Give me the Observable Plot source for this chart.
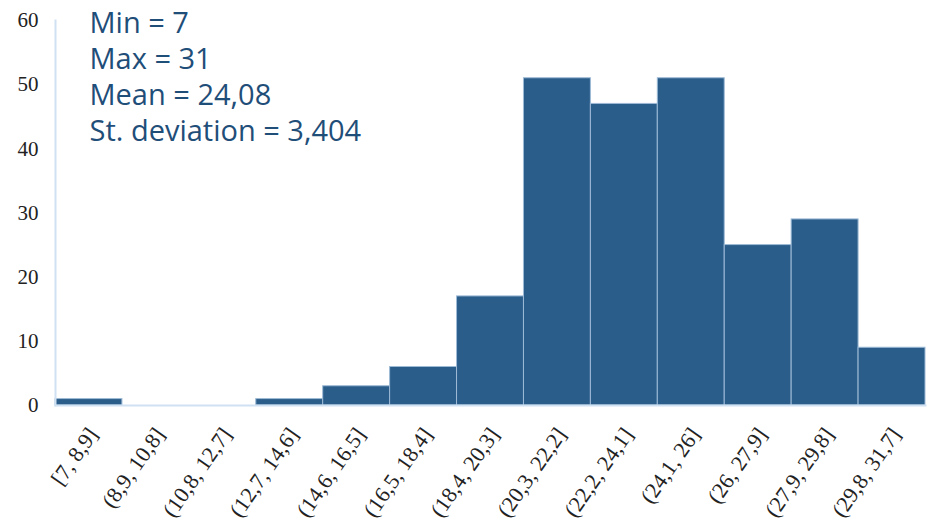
<!DOCTYPE html>
<html>
<head>
<meta charset="utf-8">
<script src="https://cdn.jsdelivr.net/npm/d3@7"></script>
<script src="https://cdn.jsdelivr.net/npm/@observablehq/plot@0.6"></script>
<style>
  html, body { margin: 0; padding: 0; background: #fff; }
  #chart svg { display: block; }
</style>
</head>
<body>
<div id="chart"></div>
<script>
const bins = ["[7, 8,9]", "(8,9, 10,8]", "(10,8, 12,7]", "(12,7, 14,6]", "(14,6, 16,5]", "(16,5, 18,4]", "(18,4, 20,3]", "(20,3, 22,2]", "(22,2, 24,1]", "(24,1, 26]", "(26, 27,9]", "(27,9, 29,8]", "(29,8, 31,7]"];
const counts = [1, 0, 0, 1, 3, 6, 17, 51, 47, 51, 25, 29, 9];
const yTicks = [0, 10, 20, 30, 40, 50, 60];
const statLines = ["Min = 7", "Max = 31", "Mean = 24,08", "St. deviation = 3,404"];

const data = bins.map((b, i) => ({bin: b, count: counts[i]}));

const chart = Plot.plot({
  width: 928,
  height: 532,
  marginTop: 20,
  marginBottom: 127,
  marginLeft: 55,
  marginRight: 3,
  style: {background: "#fff"},
  x: {domain: bins, padding: 0, round: false, label: null, axis: null},
  y: {domain: [0, 60], label: null},
  marks: [
    Plot.barY(data.filter(d => d.count > 0), {x: "bin", y: "count", fill: "#2a5d8a", stroke: "#9dbad6", strokeWidth: 1, inset: 0}),
    Plot.frame({anchor: "bottom", stroke: "#cfe1f2", strokeWidth: 2}),
    Plot.frame({anchor: "left", stroke: "#cfe1f2", strokeWidth: 2}),
    Plot.axisY({ticks: yTicks, tickSize: 0, tickPadding: 17, fontFamily: "Liberation Serif", fontSize: 21, fill: "#222", label: null}),
    Plot.text(bins, {x: d => d, frameAnchor: "bottom", rotate: -55, textAnchor: "end", lineAnchor: "middle", dx: 4, dy: 25, fontFamily: "Liberation Serif", fontSize: 22, fill: "#222"}),
    Plot.text([statLines.join("\n")], {frameAnchor: "top-left", dx: 34, dy: -13, lineAnchor: "top", textAnchor: "start", lineHeight: 1.24, fontFamily: "Open Sans", fontSize: 29, fill: "#1f4e79"})
  ]
});
document.getElementById("chart").appendChild(chart);
</script>
</body>
</html>
